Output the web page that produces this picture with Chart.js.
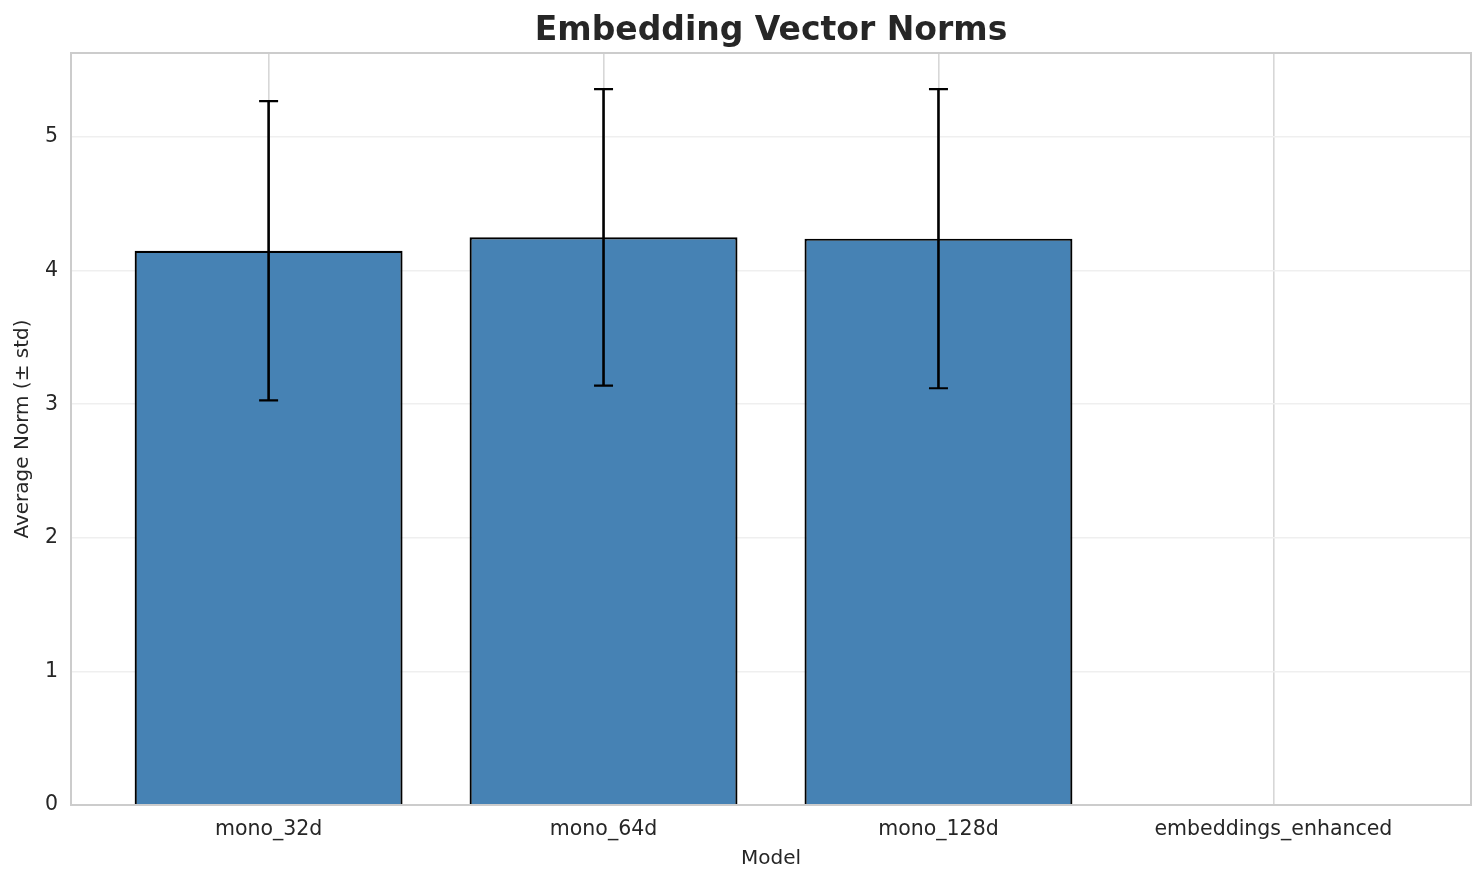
<!DOCTYPE html>
<html>
<head>
<meta charset="utf-8">
<script src="https://cdn.jsdelivr.net/npm/chart.js@4/dist/chart.umd.min.js"></script>
<style>
  html, body { margin: 0; padding: 0; background: #ffffff; }
  #wrap { width: 1483px; height: 885px; }
</style>
</head>
<body>
<div id="wrap"><canvas id="c" width="1483" height="885"></canvas></div>
<script>
const categories = ["mono_32d", "mono_64d", "mono_128d", "embeddings_enhanced"];
const means = [4.15, 4.25, 4.24, 0];
const stds = [1.12, 1.11, 1.12, 0];
const yTicks = [0, 1, 2, 3, 4, 5];

const FONT = "'DejaVu Sans', 'Liberation Sans', sans-serif";
const TXT = "#262626";

const points = categories.map((c, i) => ({ x: i, y: means[i] }));

const errorBars = {
  id: "errorBars",
  afterDatasetsDraw(chart) {
    const { ctx, scales } = chart;
    const xs = scales.x, ys = scales.y;
    ctx.save();
    ctx.strokeStyle = "#000000";
    ctx.lineCap = "butt";
    means.forEach((m, i) => {
      const x = xs.getPixelForValue(i);
      const yt = ys.getPixelForValue(m + stds[i]);
      const yb = ys.getPixelForValue(m - stds[i]);
      ctx.lineWidth = 2.6;
      ctx.beginPath();
      ctx.moveTo(x, yt);
      ctx.lineTo(x, yb);
      ctx.stroke();
      ctx.lineWidth = 2.2;
      ctx.beginPath();
      ctx.moveTo(x - 9.5, yt);
      ctx.lineTo(x + 9.5, yt);
      ctx.moveTo(x - 9.5, yb);
      ctx.lineTo(x + 9.5, yb);
      ctx.stroke();
    });
    ctx.restore();
  }
};

const frame = {
  id: "frame",
  afterDraw(chart) {
    const { ctx, chartArea: a } = chart;
    ctx.save();
    ctx.strokeStyle = "#cccccc";
    ctx.lineWidth = 2;
    ctx.strokeRect(a.left, a.top, a.right - a.left, a.bottom - a.top);
    ctx.restore();
  }
};

new Chart(document.getElementById("c"), {
  type: "bar",
  data: {
    datasets: [{
      data: points,
      backgroundColor: "#4682B4",
      borderColor: "#000000",
      borderWidth: 2.2,
      borderSkipped: "start",
      categoryPercentage: 1.0,
      barPercentage: 0.8
    }]
  },
  options: {
    responsive: false,
    animation: false,
    devicePixelRatio: 1,
    layout: { padding: { left: 0, right: 12, top: 0, bottom: 0 } },
    plugins: {
      legend: { display: false },
      tooltip: { enabled: false },
      title: {
        display: true,
        fullSize: false,
        text: "Embedding Vector Norms",
        color: TXT,
        font: { family: FONT, size: 33, weight: "bold", lineHeight: 1.2 },
        padding: { top: 12, bottom: 1.4 }
      }
    },
    scales: {
      x: {
        type: "linear",
        offset: false,
        min: -0.59,
        max: 3.59,
        afterBuildTicks(scale) {
          scale.ticks = categories.map((c, i) => ({ value: i }));
        },
        afterFit(scale) { scale.height = 80; },
        ticks: {
          callback: (v) => categories[v] !== undefined ? categories[v] : "",
          color: TXT,
          font: { family: FONT, size: 20.5 },
          padding: 12,
          maxRotation: 0,
          autoSkip: false
        },
        grid: { color: "#d7d7d7", lineWidth: 1.6, drawTicks: false, offset: false },
        border: { display: false },
        title: {
          display: true,
          text: "Model",
          color: TXT,
          font: { family: FONT, size: 20, lineHeight: 1.2 },
          padding: { top: 0, bottom: 14.5 }
        }
      },
      y: {
        min: 0,
        max: 5.63,
        afterBuildTicks(scale) {
          scale.ticks = yTicks.map(v => ({ value: v }));
        },
        afterFit(scale) { scale.width = 71; },
        ticks: {
          color: TXT,
          font: { family: FONT, size: 20.5 },
          padding: 13
        },
        grid: { color: "#efefef", lineWidth: 1.6, drawTicks: false },
        border: { display: false },
        title: {
          display: true,
          text: "Average Norm (± std)",
          color: TXT,
          font: { family: FONT, size: 20, lineHeight: 1.2 },
          padding: { top: 11, bottom: 0 }
        }
      }
    }
  },
  plugins: [errorBars, frame]
});
</script>
</body>
</html>
